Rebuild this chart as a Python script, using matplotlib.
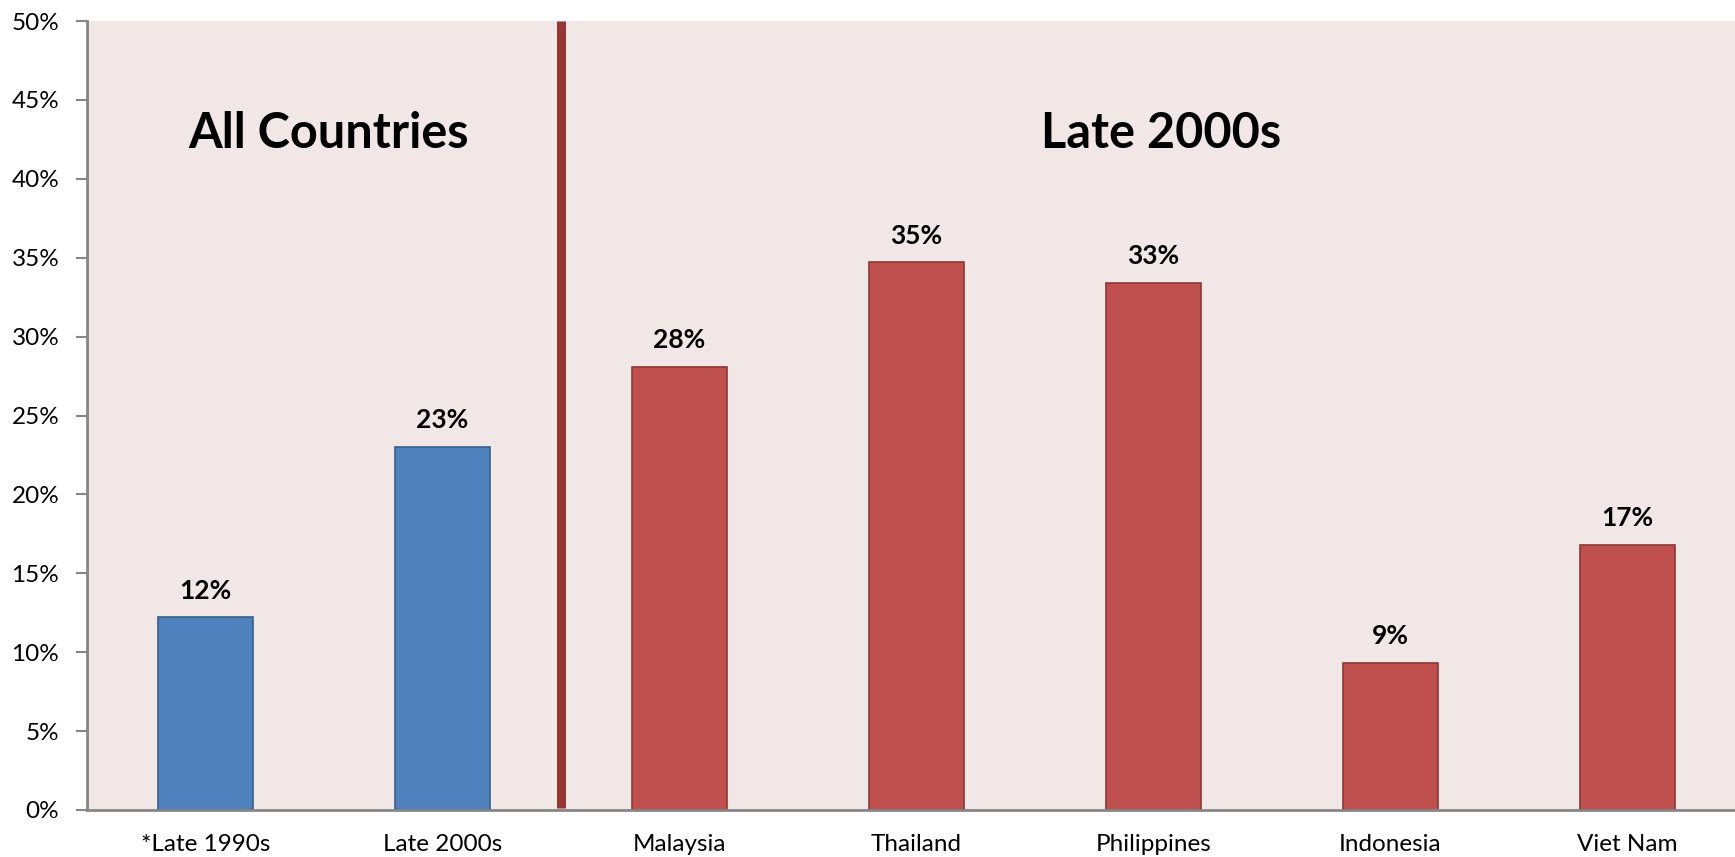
import matplotlib
matplotlib.use("Agg")
import matplotlib.pyplot as plt
from matplotlib.ticker import FuncFormatter, MultipleLocator

categories = ["*Late 1990s", "Late 2000s", "Malaysia", "Thailand", "Philippines", "Indonesia", "Viet Nam"]
values = [12.2, 23.0, 28.1, 34.7, 33.4, 9.3, 16.8]
labels = ["12%", "23%", "28%", "35%", "33%", "9%", "17%"]
groups = ["all", "all", "late", "late", "late", "late", "late"]

plt.rcParams['font.family'] = ['Lato', 'DejaVu Sans']

W, H = 1735, 857
fig = plt.figure(figsize=(W / 100, H / 100), dpi=100)
left_px, top_px, bottom_px = 87, 21, 810
cat_w = 237
ax = fig.add_axes([left_px / W, 1 - bottom_px / H, 7 * cat_w / W, (bottom_px - top_px) / H])
bg = "#F2E7E7"
ax.set_facecolor(bg)

face = {"all": "#4F81BD", "late": "#C0504D"}
edge = {"all": "#385D8A", "late": "#8C3836"}
x = list(range(len(categories)))
for xi, v, g, lab in zip(x, values, groups, labels):
    ax.bar(xi, v, width=0.4, color=face[g], edgecolor=edge[g], linewidth=1.2, zorder=2)
    ax.text(xi, v + 1.7, lab, ha="center", va="center", fontsize=19, fontweight="bold", color="black")

ax.set_xlim(-0.5, len(categories) - 0.5)
ax.set_ylim(0, 50)
ax.yaxis.set_major_locator(MultipleLocator(5))
ax.yaxis.set_major_formatter(FuncFormatter(lambda v, p: f"{v:.0f}%"))
ax.set_xticks(x)
ax.set_xticklabels(categories, fontsize=17.5)
ax.tick_params(axis="x", length=0, pad=17)
ax.tick_params(axis="y", length=8, width=1.5, color="#868686", labelsize=17.5, pad=12, direction="out")

for s in ["top", "right"]:
    ax.spines[s].set_visible(False)
for s in ["left", "bottom"]:
    ax.spines[s].set_color("#868686")
    ax.spines[s].set_linewidth(2)

# divider
ax.axvline(1.5, ymin=0.003, ymax=1.0, color="#953735", linewidth=6.5, zorder=3, solid_capstyle="butt")

ax.text(0.52, 42.9, "All Countries", ha="center", va="center", fontsize=35, fontweight="bold")
ax.text(4.03, 42.9, "Late 2000s", ha="center", va="center", fontsize=35, fontweight="bold")

fig.savefig("out.png", dpi=100, facecolor="white")
